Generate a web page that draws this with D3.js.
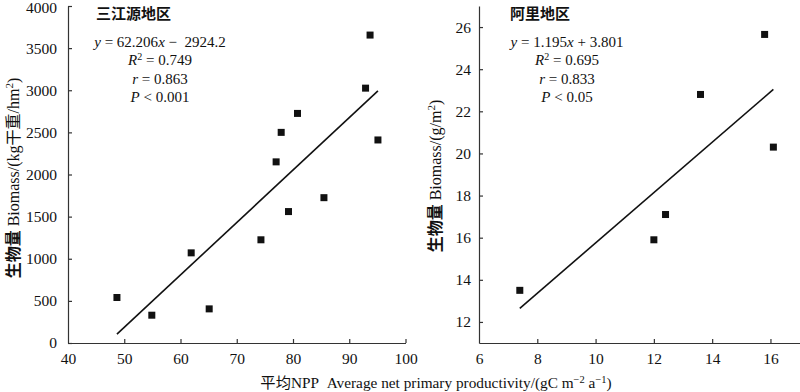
<!DOCTYPE html>
<html>
<head>
<meta charset="utf-8">
<script src="https://cdn.jsdelivr.net/npm/d3@7"></script>
<style>
  body { margin: 0; background: #fff; }
  svg text { font-family: 'Liberation Serif', 'Noto Sans CJK SC', serif; fill: #111; }
</style>
</head>
<body>
<div id="chart"></div>
<script>
(function() {

  'use strict'

  // 三江源地区
  var sjyNpp = [48.7, 54.9, 61.9, 65.1, 74.3, 79.2, 85.5, 77.0, 77.9, 80.8, 92.9, 93.7, 95.1];
  var sjyBiomass = [540, 330, 1070, 405, 1225, 1560, 1725, 2150, 2500, 2725, 3025, 3655, 2410];
  var sjyFit = { slope: 62.206, intercept: -2924.2 };
  var sjyXTicks = [40, 50, 60, 70, 80, 90, 100];
  var sjyYTicks = [0, 500, 1000, 1500, 2000, 2500, 3000, 3500, 4000];

  // 阿里地区
  var aliNpp = [7.4, 12.0, 12.4, 13.6, 15.8, 16.1];
  var aliBiomass = [13.5, 15.9, 17.1, 22.8, 25.65, 20.3];
  var aliFit = { slope: 1.195, intercept: 3.801 };
  var aliXTicks = [6, 8, 10, 12, 14, 16];
  var aliYTicks = [12, 14, 16, 18, 20, 22, 24, 26];

  var width = 800, height = 392;
  var svg = d3.select('#chart').append('svg')
    .attr('width', width)
    .attr('height', height);

  var fontSize = 15;
  var tickSize = 15.5;
  var labelSize = 16;
  var ink = '#111';
  var cjk = "'Noto Sans CJK SC', sans-serif";

  var drawPanel = function(opt) {
    var x = d3.scaleLinear().domain(opt.xDomain).range(opt.xRange);
    var y = d3.scaleLinear().domain(opt.yDomain).range([343, 6]);
    var g = svg.append('g');

    var xAxis = g.append('g')
      .attr('transform', 'translate(0,' + y.range()[0] + ')')
      .call(d3.axisBottom(x).tickValues(opt.xTicks).tickFormat(d3.format('d'))
        .tickSize(-4).tickSizeOuter(0).tickPadding(10));
    var yAxis = g.append('g')
      .attr('transform', 'translate(' + x.range()[0] + ',0)')
      .call(d3.axisLeft(y).tickValues(opt.yTicks).tickFormat(d3.format('d'))
        .tickSize(-4).tickSizeOuter(0).tickPadding(opt.yPad));

    [xAxis, yAxis].forEach(function(a) {
      a.selectAll('path, line').attr('stroke', '#333').attr('stroke-width', 1.2);
      a.selectAll('text').attr('font-size', tickSize).attr('font-family', null);
    });
    // keep the top label inside the picture
    yAxis.selectAll('.tick text').filter(function(d) { return y(d) < 8; }).attr('dy', '0.45em');
    // the first x tick sits on the y axis
    xAxis.selectAll('.tick line').filter(function(d) { return d === opt.xDomain[0]; }).remove();

    // regression line across the observed range
    var ext = d3.extent(opt.xs);
    var fit = ext.map(function(v) { return [v, opt.fit.slope * v + opt.fit.intercept]; });
    g.append('path')
      .attr('d', d3.line().x(function(d) { return x(d[0]); }).y(function(d) { return y(d[1]); })(fit))
      .attr('fill', 'none')
      .attr('stroke', ink)
      .attr('stroke-width', 1.6);

    var s = 7;
    g.selectAll('rect.pt')
      .data(opt.xs.map(function(v, i) { return [v, opt.ys[i]]; }))
      .enter().append('rect')
      .attr('class', 'pt')
      .attr('x', function(d) { return x(d[0]) - s / 2; })
      .attr('y', function(d) { return y(d[1]) - s / 2; })
      .attr('width', s)
      .attr('height', s)
      .attr('fill', ink);

    // panel title
    g.append('text')
      .attr('x', opt.titleX)
      .attr('y', 19)
      .attr('font-size', fontSize)
      .attr('font-weight', 'bold')
      .style('font-family', cjk)
      .text(opt.title);

    // statistics block
    var stats = g.append('g').attr('text-anchor', 'middle').attr('font-size', fontSize);
    opt.stats.forEach(function(parts, i) {
      var t = stats.append('text')
        .attr('x', opt.statsX)
        .attr('y', 47 + i * 18.3);
      parts.forEach(function(p) {
        var ts = t.append('tspan').text(p.t);
        if (p.i) ts.attr('font-style', 'italic');
        if (p.sup) ts.attr('baseline-shift', 'super').attr('font-size', 10);
      });
    });

    // y axis title
    var yt = g.append('text')
      .attr('transform', 'translate(' + opt.yLabelX + ',' + opt.yLabelY + ') rotate(-90)')
      .attr('text-anchor', 'middle')
      .attr('font-size', labelSize);
    yt.append('tspan').text('生物量').attr('font-weight', 'bold').style('font-family', cjk);
    opt.yLabel.forEach(function(p) {
      var ts = yt.append('tspan').text(p.t);
      if (p.sup) ts.attr('baseline-shift', 'super').attr('font-size', 11);
    });
  };

  drawPanel({
    xs: sjyNpp, ys: sjyBiomass, fit: sjyFit,
    xDomain: [40, 100], xRange: [68, 405.5], yDomain: [0, 4000],
    xTicks: sjyXTicks, yTicks: sjyYTicks, yPad: 11,
    title: '三江源地区', titleX: 96, statsX: 160,
    stats: [
      [{ t: 'y', i: true }, { t: ' = 62.206' }, { t: 'x', i: true }, { t: ' \u2212\u00a0 2924.2' }],
      [{ t: 'R', i: true }, { t: '2', sup: true }, { t: ' = 0.749' }],
      [{ t: 'r', i: true }, { t: ' = 0.863' }],
      [{ t: 'P', i: true }, { t: ' < 0.001' }]
    ],
    yLabelX: 19, yLabelY: 178,
    yLabel: [{ t: '\u00a0Biomass/(kg干重/hm' }, { t: '2', sup: true }, { t: ')' }]
  });

  drawPanel({
    xs: aliNpp, ys: aliBiomass, fit: aliFit,
    xDomain: [6, 17], xRange: [479, 799.6], yDomain: [11, 27],
    xTicks: aliXTicks, yTicks: aliYTicks, yPad: 8,
    title: '阿里地区', titleX: 510, statsX: 567,
    stats: [
      [{ t: 'y', i: true }, { t: ' = 1.195' }, { t: 'x', i: true }, { t: ' + 3.801' }],
      [{ t: 'R', i: true }, { t: '2', sup: true }, { t: ' = 0.695' }],
      [{ t: 'r', i: true }, { t: ' = 0.833' }],
      [{ t: 'P', i: true }, { t: ' < 0.05' }]
    ],
    yLabelX: 441, yLabelY: 176,
    yLabel: [{ t: '\u00a0Biomass/(g/m' }, { t: '2', sup: true }, { t: ')' }]
  });

  // shared x axis title
  var xt = svg.append('text')
    .attr('x', 436)
    .attr('y', 388)
    .attr('text-anchor', 'middle')
    .attr('font-size', 15.3);
  xt.append('tspan').text('平均').style('font-family', cjk);
  xt.append('tspan').text('NPP\u00a0\u00a0Average net primary productivity/(gC m');
  xt.append('tspan').text('\u22122').attr('baseline-shift', 'super').attr('font-size', 10.5);
  xt.append('tspan').text(' a');
  xt.append('tspan').text('\u22121').attr('baseline-shift', 'super').attr('font-size', 10.5);
  xt.append('tspan').text(')');

})();
</script>
</body>
</html>
